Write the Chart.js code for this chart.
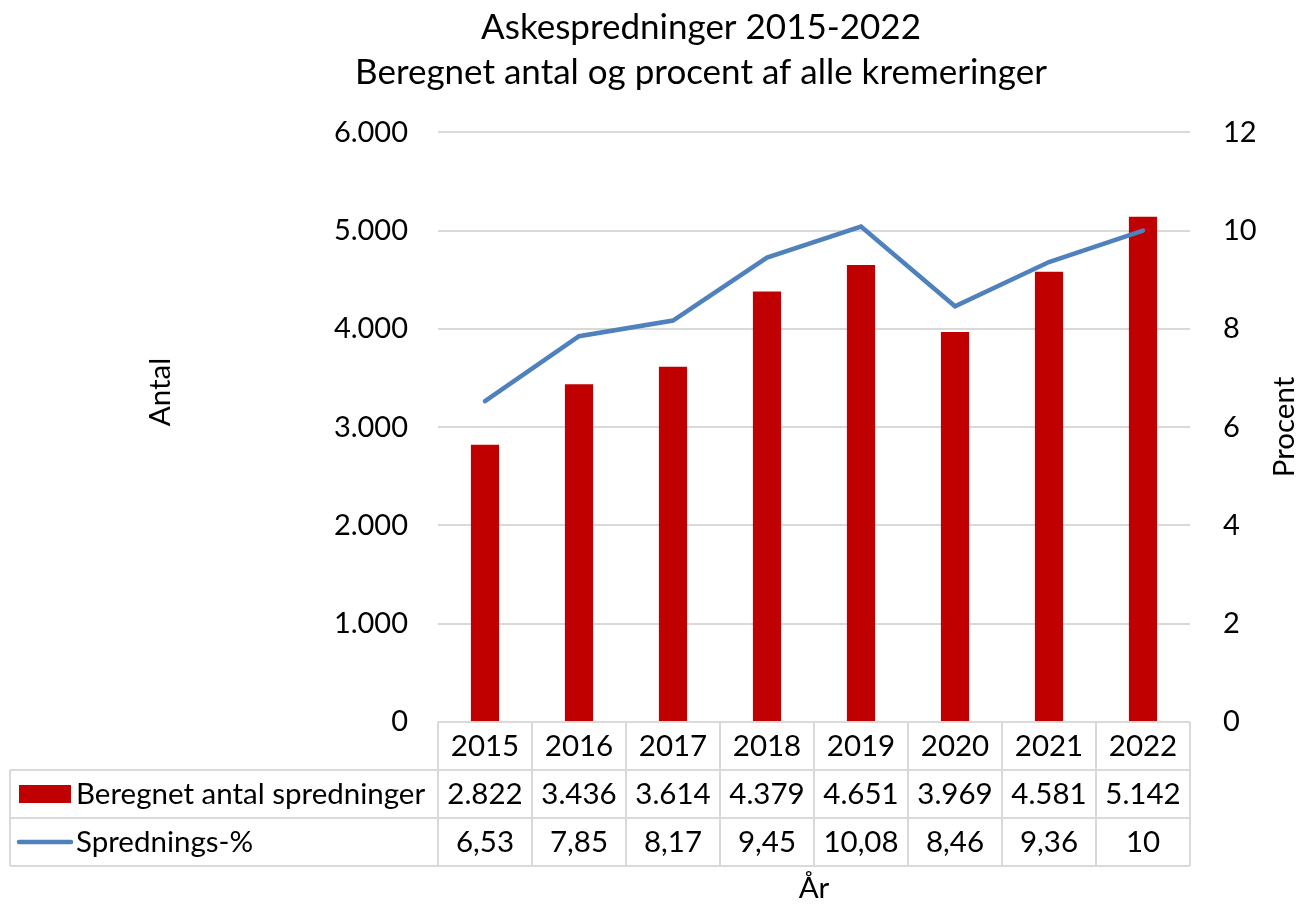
<!DOCTYPE html>
<html lang="da">
<head>
    <meta charset="UTF-8">
    <title>Askespredninger 2015-2022</title>
    <script src="https://cdn.jsdelivr.net/npm/chart.js"></script>
    <style>
        body {
            margin: 0;
            padding: 0;
            background: #fff;
        }
        canvas {
            display: block;
        }
    </style>
</head>
<body>
    <canvas id="chart" width="1296" height="905"></canvas>

    <script>
        const years = ['2015', '2016', '2017', '2018', '2019', '2020', '2021', '2022'];
        const antal = [2822, 3436, 3614, 4379, 4651, 3969, 4581, 5142];
        const procent = [6.53, 7.85, 8.17, 9.45, 10.08, 8.46, 9.36, 10];
        const barLabel = 'Beregnet antal spredninger';
        const lineLabel = 'Sprednings-%';

        const fontFamily = 'Lato, "Noto Sans", sans-serif';
        const red = '#c00000';
        const blue = '#4f81bd';
        const gridColor = '#d9d9d9';

        // danish number style: 1.000 and 6,53
        function fmtThousands(v) {
            return String(Math.round(v)).replace(/\B(?=(\d{3})+(?!\d))/g, '.');
        }
        function fmtDecimal(v) {
            return String(v).replace('.', ',');
        }

        // draws axis titles, the data table with legend keys and the "År" label
        const tablePlugin = {
            id: 'tablePlugin',
            afterDraw(chart) {
                const ctx = chart.ctx;
                const x = chart.scales.x;
                const area = chart.chartArea;
                const colW = (area.right - area.left) / years.length;
                const top = area.bottom;
                const rowH = 48;
                const legendLeft = 10;

                ctx.save();
                ctx.font = '29.5px ' + fontFamily;
                ctx.fillStyle = '#000';

                // axis titles
                ctx.save();
                ctx.translate(160, 392);
                ctx.rotate(-Math.PI / 2);
                ctx.textAlign = 'center';
                ctx.textBaseline = 'middle';
                ctx.fillText('Antal', 0, 0);
                ctx.restore();

                ctx.save();
                ctx.translate(1284, 427);
                ctx.rotate(-Math.PI / 2);
                ctx.textAlign = 'center';
                ctx.textBaseline = 'middle';
                ctx.fillText('Procent', 0, 0);
                ctx.restore();

                // table lines
                ctx.strokeStyle = gridColor;
                ctx.lineWidth = 2;
                ctx.beginPath();
                for (let k = 0; k <= years.length; k++) {
                    const lx = area.left + k * colW;
                    ctx.moveTo(lx, top);
                    ctx.lineTo(lx, top + rowH * 3);
                }
                ctx.moveTo(legendLeft, top + rowH);
                ctx.lineTo(legendLeft, top + rowH * 3);
                for (let r = 1; r <= 3; r++) {
                    ctx.moveTo(legendLeft, top + rowH * r);
                    ctx.lineTo(area.right, top + rowH * r);
                }
                ctx.stroke();

                // cells
                ctx.textAlign = 'center';
                ctx.textBaseline = 'middle';
                years.forEach((y, i) => {
                    const cx = x.getPixelForValue(i);
                    ctx.fillText(y, cx, top + rowH * 0.5);
                    ctx.fillText(fmtThousands(antal[i]), cx, top + rowH * 1.5);
                    ctx.fillText(fmtDecimal(procent[i]), cx, top + rowH * 2.5);
                });

                // legend keys
                ctx.fillStyle = red;
                ctx.fillRect(19, top + rowH * 1.5 - 9, 52, 18);
                ctx.strokeStyle = blue;
                ctx.lineWidth = 4.5;
                ctx.lineCap = 'round';
                ctx.beginPath();
                ctx.moveTo(19, top + rowH * 2.5);
                ctx.lineTo(71, top + rowH * 2.5);
                ctx.stroke();

                ctx.fillStyle = '#000';
                ctx.textAlign = 'left';
                ctx.fillText(barLabel, 76, top + rowH * 1.5);
                ctx.fillText(lineLabel, 76, top + rowH * 2.5);

                ctx.textAlign = 'center';
                ctx.fillText('\u00c5r', (area.left + area.right) / 2, 888);
                ctx.restore();
            }
        };

        const ctx = document.getElementById('chart').getContext('2d');
        new Chart(ctx, {
            type: 'bar',
            data: {
                labels: years,
                datasets: [
                    {
                        type: 'line',
                        label: lineLabel,
                        data: procent,
                        yAxisID: 'y1',
                        borderColor: blue,
                        borderWidth: 4.5,
                        pointRadius: 0,
                        tension: 0,
                        borderCapStyle: 'round',
                        order: 0
                    },
                    {
                        type: 'bar',
                        label: barLabel,
                        data: antal,
                        yAxisID: 'y',
                        backgroundColor: red,
                        categoryPercentage: 1,
                        barPercentage: 0.3,
                        order: 1
                    }
                ]
            },
            options: {
                responsive: false,
                animation: false,
                layout: {
                    padding: { left: 106, right: 0, top: 0, bottom: 183 }
                },
                plugins: {
                    legend: { display: false },
                    tooltip: { enabled: false },
                    title: {
                        display: true,
                        text: ['Askespredninger 2015-2022', 'Beregnet antal og procent af alle kremeringer'],
                        color: '#000',
                        font: { family: fontFamily, size: 35, weight: 'normal', lineHeight: 1.29 },
                        padding: { top: 5, bottom: 37 }
                    }
                },
                scales: {
                    x: {
                        display: false
                    },
                    y: {
                        position: 'left',
                        min: 0,
                        max: 6000,
                        border: { display: false },
                        grid: { color: gridColor, lineWidth: 2, drawTicks: false },
                        ticks: {
                            stepSize: 1000,
                            padding: 30,
                            color: '#000',
                            font: { family: fontFamily, size: 29 },
                            callback: v => fmtThousands(v)
                        },
                        afterFit(scale) { scale.width = 332; }
                    },
                    y1: {
                        position: 'right',
                        min: 0,
                        max: 12,
                        border: { display: false },
                        grid: { display: false },
                        ticks: {
                            stepSize: 2,
                            padding: 25,
                            color: '#000',
                            font: { family: fontFamily, size: 29 }
                        },
                        afterFit(scale) { scale.width = 106; }
                    }
                }
            },
            plugins: [tablePlugin]
        });
    </script>
</body>
</html>
